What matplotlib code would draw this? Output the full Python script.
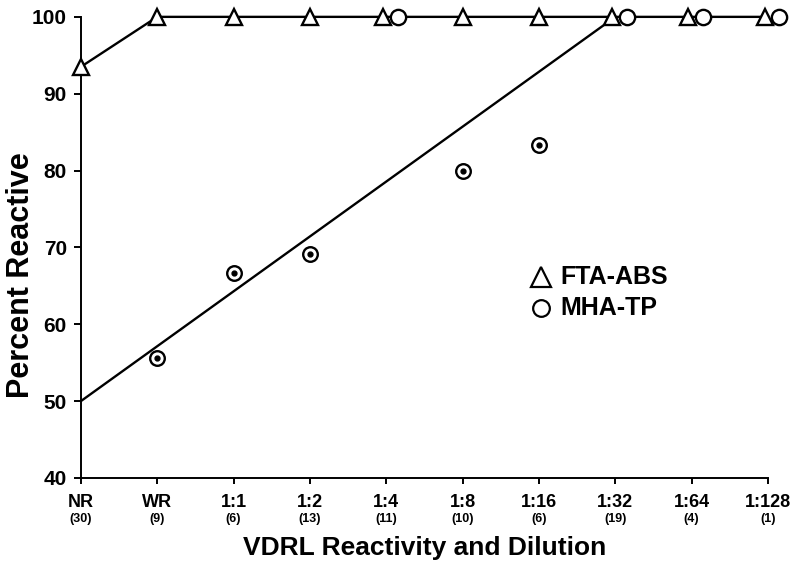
import matplotlib.pyplot as plt
from matplotlib.transforms import blended_transform_factory

# VDRL categories and number of sera in each
categories = ["NR", "WR", "1:1", "1:2", "1:4", "1:8", "1:16", "1:32", "1:64", "1:128"]
counts = ["(30)", "(9)", "(6)", "(13)", "(11)", "(10)", "(6)", "(19)", "(4)", "(1)"]

# Percent reactive, FTA-ABS
fta_abs = [93.5, 100, 100, 100, 100, 100, 100, 100, 100, 100]

# Percent reactive, MHA-TP (below 100 -> dotted circles, at 100 -> open circles)
mha_low_cat = ["WR", "1:1", "1:2", "1:8", "1:16"]
mha_low = [55.6, 66.7, 69.2, 80.0, 83.3]
mha_full_cat = ["1:4", "1:32", "1:64", "1:128"]
mha_full = [100, 100, 100, 100]

# fitted line for MHA-TP
fit_cat = ["NR", "1:32"]
fit_y = [50, 100]

plt.rcParams['font.family'] = ['Liberation Sans', 'DejaVu Sans']
plt.rcParams['font.weight'] = 'bold'

fig = plt.figure(figsize=(7.93, 5.62), dpi=100)
ax = fig.add_axes([0.102, 0.1495, 0.8665, 0.8205])

xpos = {c: i for i, c in enumerate(categories)}
x = list(range(len(categories)))
lw = 1.7

# nudge symbols apart where both tests sit at 100
fta_x = [i - 0.045 if categories[i] in mha_full_cat else i for i in x]
ax.plot(x, fta_abs, color='black', lw=lw, zorder=2, clip_on=False)
ax.plot(fta_x, fta_abs, ls='none', marker='^', ms=12, mfc='white', mec='black',
        mew=lw, zorder=3, clip_on=False)

ax.plot([xpos[c] for c in fit_cat], fit_y, color='black', lw=lw, zorder=2)

ax.plot([xpos[c] + 0.15 for c in mha_full_cat], mha_full, ls='none', marker='o',
        ms=11, mfc='white', mec='black', mew=lw, zorder=4, clip_on=False)
ax.plot([xpos[c] for c in mha_low_cat], mha_low, ls='none', marker='o', ms=10.5,
        mfc='white', mec='black', mew=lw, zorder=4)
ax.plot([xpos[c] for c in mha_low_cat], mha_low, ls='none', marker='o', ms=3.5,
        color='black', zorder=5)

ax.set_xlim(0, 9)
ax.set_ylim(40, 100)
ax.set_yticks(range(40, 101, 10))
ax.set_xticks(x)
ax.set_xticklabels(categories, fontsize=13, fontweight='bold')
ax.tick_params(axis='y', labelsize=15, width=1.4, length=5, pad=5)
ax.tick_params(axis='x', width=1.4, length=4.5, pad=7)
for lab in ax.get_yticklabels():
    lab.set_fontweight('bold')

trans = blended_transform_factory(ax.transData, ax.transAxes)
for i, n in enumerate(counts):
    ax.text(i, -0.077, n, transform=trans, ha='center', va='top', fontsize=9,
            fontweight='bold')

ax.spines['top'].set_visible(False)
ax.spines['right'].set_visible(False)
ax.spines['left'].set_linewidth(1.4)
ax.spines['bottom'].set_linewidth(1.4)

ax.set_ylabel("Percent Reactive", fontsize=22, fontweight='bold')
ax.yaxis.set_label_coords(-0.066, 0.44)
ax.set_xlabel("VDRL Reactivity and Dilution", fontsize=19, fontweight='bold')
ax.xaxis.set_label_coords(0.5, -0.125)

# legend drawn by hand, inside the axes
ax.plot([6.03], [66.2], ls='none', marker='^', ms=14.5, mfc='white', mec='black',
        mew=1.6)
ax.plot([6.03], [62.1], ls='none', marker='o', ms=12, mfc='white', mec='black',
        mew=1.6)
ax.text(6.28, 66.2, "FTA-ABS", fontsize=18, fontweight='bold', va='center')
ax.text(6.28, 62.1, "MHA-TP", fontsize=18, fontweight='bold', va='center')

fig.savefig("out.png", dpi=100)
